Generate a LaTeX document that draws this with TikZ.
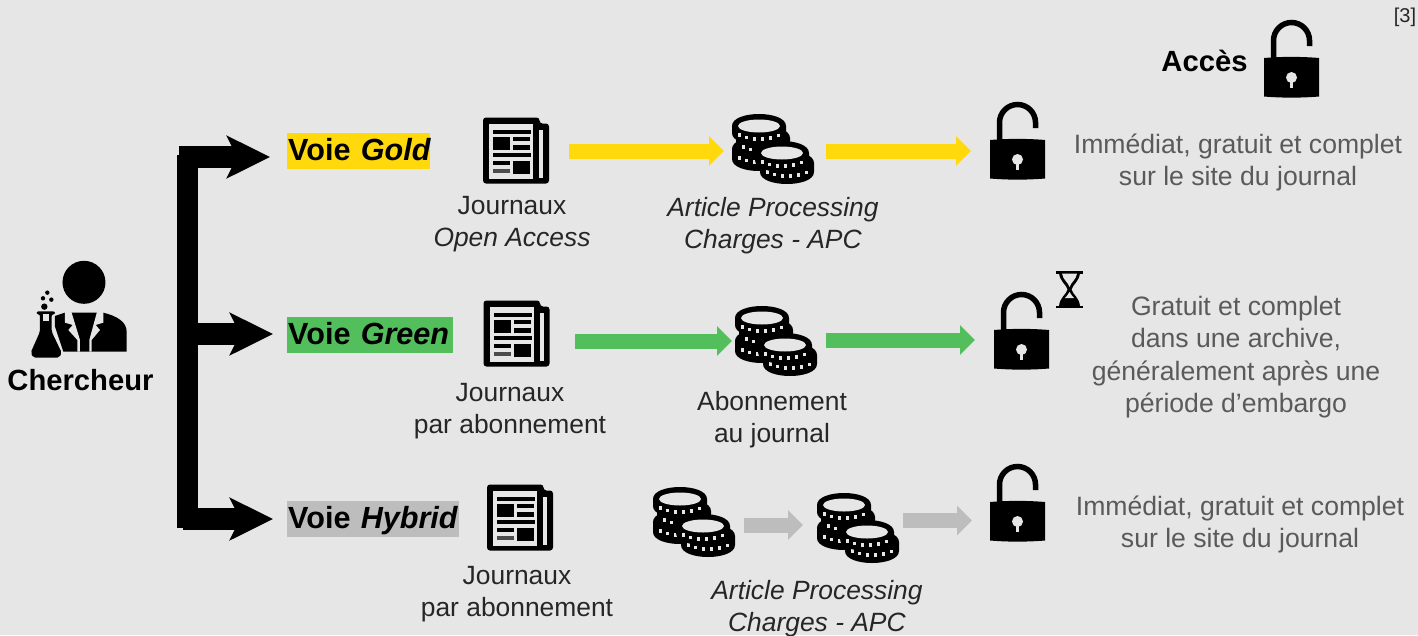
\documentclass[tikz,border=0pt]{standalone}
\usepackage{fontspec}
\setmainfont{Liberation Sans}
\usetikzlibrary{arrows.meta}
\definecolor{bgcol}{HTML}{E6E6E6}
\definecolor{goldcol}{HTML}{FFD90C}
\definecolor{greencol}{HTML}{52BE5C}
\definecolor{greycol}{HTML}{BDBDBD}
\definecolor{desccol}{HTML}{5A5A5A}
\definecolor{labelcol}{HTML}{262626}

% one coin of a stack: centre x, top y, side height
\newcommand{\coinpiece}[3]{
	\fill[black] (#1-27,#2) -- (#1-27,#2+#3) .. controls (#1-27,#2+#3+16) and (#1+27,#2+#3+16) .. (#1+27,#2+#3) -- (#1+27,#2) .. controls (#1+27,#2-16) and (#1-27,#2-16) .. (#1-27,#2) -- cycle;
	\foreach \dx/\dy in {-20/-4, -12.5/-1.5, -4.5/0, 3.5/0, 11.5/-1, 19.5/-3.5}
		\fill[bgcol] (#1+\dx-1.5,#2+13+\dy-1.6) rectangle (#1+\dx+1.5,#2+13+\dy+1.6);
}

\begin{document}
\begin{tikzpicture}[
	x=1pt,
	y=-1pt,
	voie/.style={
		anchor=west,
		inner xsep=1pt,
		inner ysep=0pt,
		minimum height=36pt,
		text height=25pt,
		text depth=6pt,
		align=left,
		font=\fontsize{30.6}{36}\selectfont\bfseries
	},
	label/.style={
		align=center,
		text=labelcol,
		font=\fontsize{26.4}{32}\selectfont
	},
	desc/.style={
		align=center,
		text=desccol,
		font=\fontsize{26.6}{32.3}\selectfont
	},
	title/.style={
		font=\fontsize{29.2}{32}\selectfont\bfseries
	},
	icon/.style={
		inner sep=0pt,
		outer sep=0pt
	},
	branch/.style={
		line width=22pt,
		-{Stealth[length=43pt,width=42pt,inset=10pt]}
	},
	flow/.style={
		line width=15pt,
		-{Triangle[length=15pt,width=29pt]}
	},
	pics/lock/.style={code={
		\draw[black,line width=5.5pt] (9.5,39) -- (9.5,20.5) .. controls (9.5,10.6) and (17.6,2.5) .. (27.5,2.5) .. controls (37.4,2.5) and (45.5,10.6) .. (45.5,20.5) -- (45.5,26);
		\fill[black] (0,38) .. controls (18,36.5) and (37,36.5) .. (55,38) -- (55,76.5) .. controls (37,78) and (18,78) .. (0,76.5) -- cycle;
		\fill[bgcol] (27.5,57.5) circle (5.5);
		\fill[bgcol] (25.8,58) rectangle (29.2,68);
	}},
	pics/journal/.style={code={
		\fill[black,rounded corners=3pt] (0,0) -- (56.5,0) -- (56.5,6) -- (66,6) -- (66,66) -- (0,66) -- cycle;
		\fill[bgcol] (6,6) rectangle (50,61);
		\fill[bgcol] (56,12) rectangle (60,60);
		\fill[black] (10,12) rectangle (48,16);
		\fill[black] (10,19) rectangle (27,32);
		\fill[black] (30,19) rectangle (47,23);
		\fill[black] (30,27) rectangle (47,32);
		\fill[black] (10,35) rectangle (48,39);
		\fill[black] (10,43) rectangle (27,47);
		\fill[black!70] (10,51) rectangle (27,55);
		\fill[black] (30,43) rectangle (47,56);
	}},
	pics/coins/.style={code={
		\coinpiece{27}{35}{10}
		\coinpiece{31}{24}{6}
		\coinpiece{27}{12}{7}
		\fill[bgcol] (27,12) ellipse (21 and 6.5);
		\coinpiece{55}{49}{9}
		\coinpiece{50}{39}{7}
		\fill[bgcol] (50,39) ellipse (21 and 6.5);
	}},
	pics/hourglass/.style={code={
		\fill[black] (0,0) rectangle (27,2.5);
		\fill[black] (0,34.5) rectangle (27,37);
		\fill[black] (3,2) .. controls (4,11) and (10,13) .. (11.5,18.5) .. controls (10,24) and (4,26) .. (3,35) -- (24,35) .. controls (23,26) and (17,24) .. (15.5,18.5) .. controls (17,13) and (23,11) .. (24,2) -- cycle;
		\fill[bgcol] (6,2.5) .. controls (7,9) and (12,11) .. (13.5,16) .. controls (15,11) and (20,9) .. (21,2.5) -- cycle;
		\fill[bgcol] (13.5,21) .. controls (12.5,24) and (10,25) .. (9,27) -- (18,27) .. controls (17,25) and (14.5,24) .. (13.5,21) -- cycle;
	}},
	pics/chercheur/.style={code={
		\begin{scope}[x=0.3333pt,y=-0.3333pt]
			\fill[black] (252,457) circle (21.5pt);
			% Torso
			\fill[black] (165,558) -- (195,548) -- (310,548) .. controls (350,558) and (380,575) .. (380,605) -- (380,665) -- (190,665) -- (165,590) -- cycle;
			\fill[bgcol] (195,546) -- (213,542) -- (240,630) -- (240,665) -- (232,665) -- (232,630) -- (205,600) -- (218,585) -- (195,578) -- cycle;
			\fill[bgcol] (310,546) -- (292,542) -- (268,630) -- (268,665) -- (275,665) -- (275,630) -- (300,600) -- (287,585) -- (310,578) -- cycle;
			% Flask
			\fill[black,rounded corners=2pt] (110,544) -- (165,544) -- (165,553) -- (155,553) -- (155,605) -- (185,668) -- (178,683) -- (100,683) -- (92,668) -- (120,605) -- (120,553) -- (110,553) -- cycle;
			\fill[bgcol] (128,553) rectangle (147,573);
			% Bubbles
			\fill[black] (133,530) circle (3.2pt);
			\fill[black] (129,505) circle (2.2pt);
			\fill[black] (142,488) circle (2.2pt);
			\fill[black] (154,509) circle (2.2pt);
		\end{scope}
	}},
]

\fill[bgcol] (0,0) rectangle (1418,635);
\useasboundingbox (0,0) rectangle (1418,635);

% Voies
\node[voie,fill=goldcol,text width=141pt] (voiegold) at (287,151) {\mbox{Voie \textit{Gold}}};
\node[voie,fill=greencol,text width=164pt] (voiegreen) at (287,335) {\mbox{Voie \textit{Green}}};
\node[voie,fill=greycol,text width=170pt] (voiehybrid) at (287,519) {\mbox{Voie \textit{Hybrid}}};

% Chercheur
\pic at (0,130) {chercheur};
\node[title] (chercheur) at (80.5,380.5) {Chercheur};

% Branches
\coordinate (trunktop) at (187.5,155);
\coordinate (trunkbot) at (187.5,528);
\coordinate (startgold) at (179,157);
\coordinate (startgreen) at (187,334);
\coordinate (starthybrid) at (183,519);
\draw[line width=21pt] (trunktop) -- (trunkbot);
\draw[branch,shorten >=17pt] (startgold) -- (startgold -| voiegold.west);
\draw[branch,shorten >=14pt] (startgreen) -- (startgreen -| voiegreen.west);
\draw[branch,shorten >=14pt] (starthybrid) -- (starthybrid -| voiehybrid.west);

% Journaux
\foreach \name/\x/\y in {gold/516/150.5, green/516.5/333.5, hybrid/520/517.5} {
	\node[icon,minimum width=66pt,minimum height=66pt] (journal\name) at (\x,\y) {};
	\pic at (journal\name.north west) {journal};
}

% Pieces
\foreach \name/\x/\y in {gold/773/149, green/776/341, hybridA/694/522, hybridB/858/528} {
	\node[icon,minimum width=82pt,minimum height=70pt] (coins\name) at (\x,\y) {};
	\pic at (coins\name.north west) {coins};
}

% Cadenas
\foreach \name/\x/\y in {head/1291.5/59, gold/1017.5/141, green/1021.5/331, hybrid/1017.5/503} {
	\node[icon,minimum width=55pt,minimum height=78pt] (lock\name) at (\x,\y) {};
	\pic at (lock\name.north west) {lock};
}
\node[icon,minimum width=27pt,minimum height=37pt] (sablier) at (1069.5,289.5) {};
\pic at (sablier.north west) {hourglass};

% Fleches
\draw[flow,goldcol,shorten <=20pt,shorten >=8pt] ([yshift=-0.5pt]journalgold.east) -- ([yshift=-0.5pt]journalgold.east -| coinsgold.west);
\draw[flow,goldcol,shorten <=12pt,shorten >=19pt] ([yshift=-2pt]coinsgold.east) -- ([yshift=-2pt]coinsgold.east -| lockgold.west);
\draw[flow,greencol,shorten <=25.5pt,shorten >=3pt] ([yshift=-7.5pt]journalgreen.east) -- ([yshift=-7.5pt]journalgreen.east -| coinsgreen.west);
\draw[flow,greencol,shorten <=9pt,shorten >=19pt] ([yshift=1pt]coinsgreen.east) -- ([yshift=1pt]coinsgreen.east -| lockgreen.west);
\draw[flow,greycol,shorten <=9pt,shorten >=14pt] ([yshift=-3pt]coinshybridA.east) -- ([yshift=-3pt]coinshybridA.east -| coinshybridB.west);
\draw[flow,greycol,shorten <=4pt,shorten >=18pt] ([yshift=7.5pt]coinshybridB.east) -- ([yshift=7.5pt]coinshybridB.east -| lockhybrid.west);

% Textes
\node[label] (jtextgold) at (512,224.5) {Journaux\\\textit{Open Access}};
\node[label] (jtextgreen) at (510,411.5) {Journaux\\par abonnement};
\node[label] (jtexthybrid) at (517,594.5) {Journaux\\par abonnement};
\node[label] (ctextgold) at (773,225.5) {\textit{Article Processing}\\\textit{Charges - APC}};
\node[label] (ctextgreen) at (772,419.5) {Abonnement\\au journal};
\node[label] (ctexthybrid) at (817,608.5) {\textit{Article Processing}\\\textit{Charges - APC}};
\node[desc] (descgold) at (1238,162.5) {Immédiat, gratuit et complet\\sur le site du journal};
\node[desc] (descgreen) at (1236,357) {Gratuit et complet\\dans une archive,\\généralement après une\\période d’embargo};
\node[desc] (deschybrid) at (1240,524.5) {Immédiat, gratuit et complet\\sur le site du journal};
\node[title] (acces) at (1204.5,61) {Accès};
\node[label,font=\fontsize{20}{22}\selectfont] (ref) at (1405,17) {[3]};

\end{tikzpicture}
\end{document}
